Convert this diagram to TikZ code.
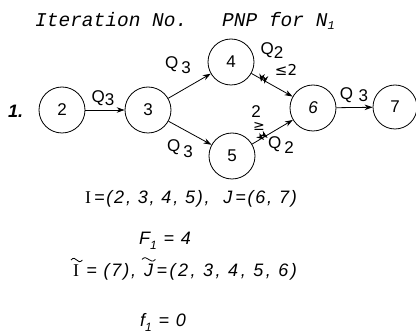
\documentclass[tikz,border=0pt]{standalone}
\usepackage{fontspec}
\setmainfont{Liberation Sans}
\newfontfamily\monofam{Liberation Mono}
\newfontfamily\symfam{DejaVu Sans}
\newfontfamily\eqfam[LetterSpace=10]{Liberation Sans}
\newfontfamily\eqwidefam[LetterSpace=14]{Liberation Sans}
\newfontfamily\serfam{Liberation Serif}
\usetikzlibrary{arrows.meta,decorations.markings}
\begin{document}
\begin{tikzpicture}[x=1pt,y=-1pt,
  st/.style={circle,draw,line width=0.8pt,minimum size=46pt,inner sep=0pt,font=\fontsize{17}{17}\selectfont},
  arr/.style={-{Stealth[length=8pt,width=5.5pt]},line width=0.8pt},
  tick/.style={postaction={decorate,decoration={markings,
      mark=at position 1cm-17pt with {\draw[line width=0.6pt] (-1,-2.5)--(1,2.5);},
      mark=at position 1cm-13pt with {\draw[line width=0.6pt] (-1,-2.5)--(1,2.5);}}}},
  lab/.style={font=\fontsize{17}{17}\selectfont,inner sep=0pt},
  eq/.style={font=\eqfam\itshape\fontsize{18}{18}\selectfont,anchor=base,inner sep=0pt},
  eqw/.style={eq,anchor=base west},
  tl/.style={line width=0.8pt},
  ttl/.style={font=\monofam\itshape\fontsize{19.5}{20}\selectfont,anchor=base west,inner sep=0pt}]
\useasboundingbox (0,0) rectangle (416,334);
% title
\node[ttl] (t1) at (35,27) {Iteration No.};
\node[ttl] (t2) at (222,27) {PNP for N\raisebox{-3pt}{\fontsize{12}{12}\selectfont 1}};
\node[font=\bfseries\itshape\fontsize{18}{18}\selectfont,anchor=base west,inner sep=0pt] (one) at (8,118) {1.};
% nodes
\node[st] (n2) at (62,110) {2};
\node[st] (n3) at (148,110) {3};
\node[st] (n4) at (231,62) {4};
\node[st] (n5) at (232,156) {5};
\node[st,font=\itshape\fontsize{17}{17}\selectfont] (n6) at (313,108) {6};
\node[st,minimum size=44pt] (n7) at (395,107) {7};
% edges
\draw[arr] (n2) -- (n3);
\draw[arr] (n3) -- (n4);
\draw[arr] (n3) -- (n5);
\draw[arr,tick] (n4) -- (n6);
\draw[arr,tick] (n5) -- (n6);
\draw[arr] (n6) -- (n7);
% labels
\node[lab] (q23) at (103,98) {Q\raisebox{-3pt}{3}};
\node[lab] (q34) at (178,65) {Q\,\raisebox{-5pt}{3}};
\node[lab] (q35) at (180,149) {Q\,\raisebox{-6pt}{3}};
\node[lab] (q46) at (272,51) {Q\raisebox{-4pt}{2}};
\node[lab,font=\symfam\fontsize{15}{15}\selectfont] (c46) at (286,70) {≤2};
\node[lab] (d56) at (256,112) {2};
\node[lab,font=\symfam\fontsize{14}{14}\selectfont] (g56) at (259,126) {≥};
\node[lab] (q56) at (281,145) {Q\,\raisebox{-5pt}{2}};
\node[lab] (q67) at (354,95) {Q\,\,\raisebox{-2pt}{3}};
% equations
\node[eq] (e1) at (191,204) {{\upshape\serfam I}\,=(2, 3, 4, 5),\ \ J\,=(6, 7)};
\node[eq] (e2) at (165,245) {F\raisebox{-5pt}{\fontsize{12}{12}\selectfont 1}\ =\ 4};
\node[eqw,font=\serfam\fontsize{18}{18}\selectfont] (iI) at (73,277) {I};
\node[eqw] (e3a) at (iI.base east) {\ =\ (7),};
\node[eqw] (jJ) at (144,277) {J};
\node[eqw,font=\eqwidefam\itshape\fontsize{18}{18}\selectfont] (e3b) at (jJ.base east) {\,=(2, 3, 4, 5, 6)};
\draw[tl] ([xshift=-2pt,yshift=5pt]iI.north west) .. controls +(5,-6) and +(-5,6) .. ([xshift=3pt,yshift=5pt]iI.north east);
\draw[tl] ([xshift=-2pt,yshift=5pt]jJ.north west) .. controls +(5,-6) and +(-5,6) .. ([xshift=2pt,yshift=5pt]jJ.north east);
\node[eq] (e4) at (163,327) {f\raisebox{-5pt}{\fontsize{12}{12}\selectfont 1}\ =\ 0};
\end{tikzpicture}
\end{document}
